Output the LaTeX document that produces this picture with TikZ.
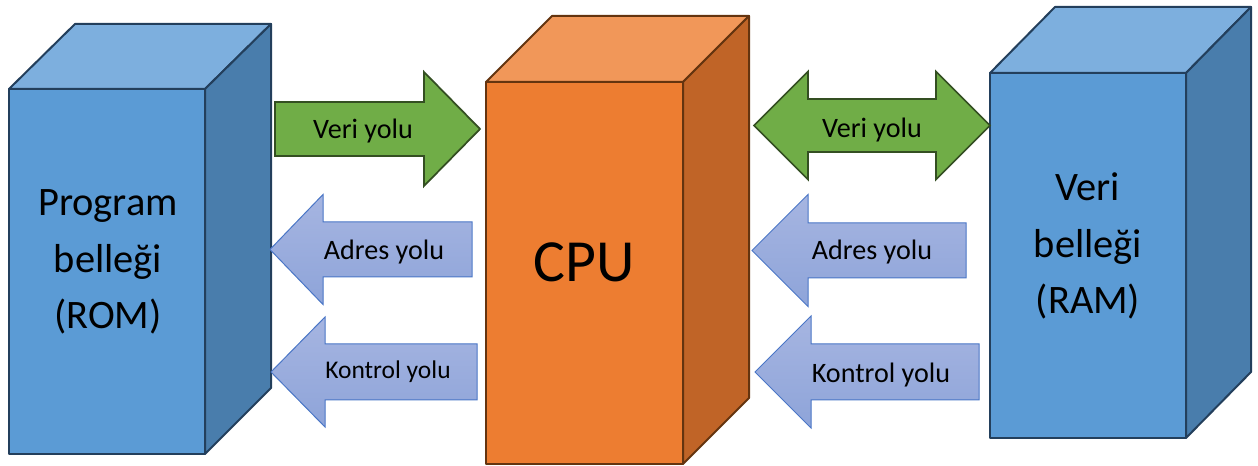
\documentclass[tikz,border=0pt]{standalone}
\usepackage{fontspec}
\setmainfont{Carlito}
\usepackage{xcolor}
\usetikzlibrary{positioning}
\definecolor{memfront}{HTML}{5B9BD5}
\definecolor{memtop}{HTML}{7DAFDE}
\definecolor{memside}{HTML}{497DAC}
\definecolor{memline}{HTML}{233F5C}
\definecolor{cpufront}{HTML}{ED7D31}
\definecolor{cputop}{HTML}{F19759}
\definecolor{cpuside}{HTML}{C06427}
\definecolor{cpuline}{HTML}{64340F}
\definecolor{datfill}{HTML}{70AD47}
\definecolor{datline}{HTML}{344F22}
\definecolor{ctltop}{HTML}{A6B5E1}
\definecolor{ctlbot}{HTML}{8EA4D9}
\definecolor{ctlline}{HTML}{4A76C6}

\begin{document}
\begin{tikzpicture}[
    memface/.style={draw=memline, line width=0.04cm, line join=round},
    cpuface/.style={draw=cpuline, line width=0.04cm, line join=round},
    datbus/.style={draw=datline, fill=datfill, line width=0.035cm, line join=miter},
    ctlbus/.style={draw=ctlline, top color=ctltop, bottom color=ctlbot, line width=0.02cm},
    buslabel/.style={font=\fontsize{16}{19}\selectfont, inner sep=0pt},
    boxlabel/.style={font=\fontsize{23}{32}\selectfont, align=center, inner sep=0pt}]
                    \useasboundingbox (0,0) rectangle (25.160000,9.320000);

                    % Drawing box rom
                    \filldraw [memface, fill=memfront] (0.180000,0.240000) rectangle (4.100000,7.540000);%
                    \filldraw [memface, fill=memtop] (0.180000,7.540000) -- (1.500000,8.840000) -- (5.420000,8.840000) -- (4.100000,7.540000) -- cycle;%
                    \filldraw [memface, fill=memside] (4.100000,7.540000) -- (5.420000,8.840000) -- (5.420000,1.560000) -- (4.100000,0.240000) -- cycle;%

                    % Drawing box cpu
                    \filldraw [cpuface, fill=cpufront] (9.720000,0.040000) rectangle (13.660000,7.680000);%
                    \filldraw [cpuface, fill=cputop] (9.720000,7.680000) -- (11.040000,9.000000) -- (14.980000,9.000000) -- (13.660000,7.680000) -- cycle;%
                    \filldraw [cpuface, fill=cpuside] (13.660000,7.680000) -- (14.980000,9.000000) -- (14.980000,1.360000) -- (13.660000,0.040000) -- cycle;%

                    % Drawing box ram
                    \filldraw [memface, fill=memfront] (19.800000,0.560000) rectangle (23.720000,7.860000);%
                    \filldraw [memface, fill=memtop] (19.800000,7.860000) -- (21.100000,9.180000) -- (25.020000,9.180000) -- (23.720000,7.860000) -- cycle;%
                    \filldraw [memface, fill=memside] (23.720000,7.860000) -- (25.020000,9.180000) -- (25.020000,1.880000) -- (23.720000,0.560000) -- cycle;%

                    % Drawing arrow rom cpu (data)
                    \draw [datbus] (5.500000,7.280000) -- (8.480000,7.280000) -- (8.480000,7.880000) -- (9.600000,6.740000) -- (8.480000,5.600000) -- (8.480000,6.200000) -- (5.500000,6.200000) -- cycle;%

                    % Drawing arrow cpu ram (data, both ways)
                    \draw [datbus] (15.080000,6.810000) -- (16.160000,7.890000) -- (16.160000,7.340000) -- (18.720000,7.340000) -- (18.720000,7.890000) -- (19.800000,6.810000) -- (18.720000,5.730000) -- (18.720000,6.280000) -- (16.160000,6.280000) -- (16.160000,5.730000) -- cycle;%

                    % Drawing arrow cpu rom (address)
                    \draw [ctlbus] (5.400000,4.330000) -- (6.460000,5.430000) -- (6.460000,4.880000) -- (9.440000,4.880000) -- (9.440000,3.780000) -- (6.460000,3.780000) -- (6.460000,3.230000) -- cycle;%

                    % Drawing arrow cpu rom (control)
                    \draw [ctlbus] (5.420000,1.880000) -- (6.500000,2.980000) -- (6.500000,2.440000) -- (9.540000,2.440000) -- (9.540000,1.320000) -- (6.500000,1.320000) -- (6.500000,0.780000) -- cycle;%

                    % Drawing arrow ram cpu (address)
                    \draw [ctlbus] (15.040000,4.310000) -- (16.160000,5.430000) -- (16.160000,4.860000) -- (19.320000,4.860000) -- (19.320000,3.760000) -- (16.160000,3.760000) -- (16.160000,3.190000) -- cycle;%

                    % Drawing arrow ram cpu (control)
                    \draw [ctlbus] (15.100000,1.880000) -- (16.220000,3.000000) -- (16.220000,2.440000) -- (19.580000,2.440000) -- (19.580000,1.320000) -- (16.220000,1.320000) -- (16.220000,0.760000) -- cycle;%

                    % Marking point {rom}
                    \draw (2.160000,4.080000) node (romlabel) [boxlabel] {Program\\belleği\\(ROM)};%

                    % Marking point {cpu}
                    \draw (11.680000,4.080000) node (cpulabel) [boxlabel, font=\fontsize{34}{40}\selectfont] {CPU};%

                    % Marking point {ram}
                    \draw (21.760000,4.400000) node (ramlabel) [boxlabel] {Veri\\belleği\\(RAM)};%

                    % Marking point {veri yolu}
                    \draw (7.260000,6.700000) node (veriL) [buslabel] {Veri yolu};%
                    \draw (17.440000,6.720000) node (veriR) [buslabel] {Veri yolu};%

                    % Marking point {adres yolu}
                    \draw (7.680000,4.280000) node (adresL) [buslabel] {Adres yolu};%
                    \draw (17.440000,4.280000) node (adresR) [buslabel] {Adres yolu};%

                    % Marking point {kontrol yolu}
                    \draw (7.760000,1.880000) node (kontrolL) [buslabel, font=\fontsize{14.5}{17}\selectfont] {Kontrol yolu};%
                    \draw (17.620000,1.820000) node (kontrolR) [buslabel] {Kontrol yolu};%
                    \end{tikzpicture}
\end{document}
